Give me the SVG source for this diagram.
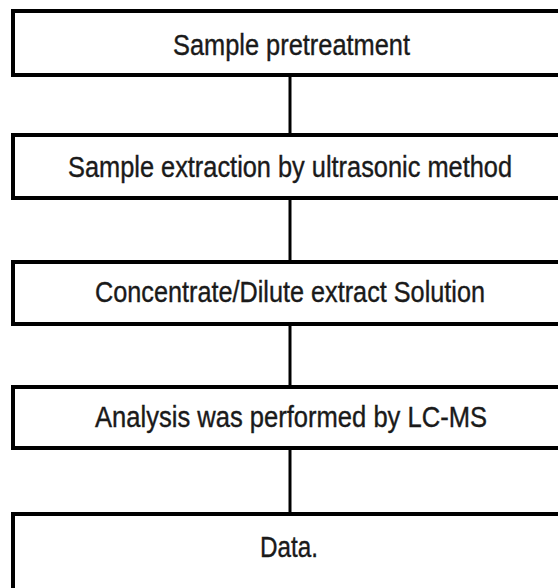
<svg xmlns="http://www.w3.org/2000/svg" width="558" height="588" viewBox="0 0 558 588">
<style>
.box{fill:#fff;stroke:#000;stroke-width:4}
.lbl{font-family:"Liberation Sans",Arial,sans-serif;font-size:30px;fill:#1a1a1a;text-anchor:middle;stroke:#1a1a1a;stroke-width:0.4}
.con{stroke:#000;stroke-width:3;fill:none}
</style>
<rect width="558" height="588" fill="#fff"/>
<g id="connectors">
<line class="con" x1="290" y1="75" x2="290" y2="135"/>
<line class="con" x1="290" y1="198" x2="290" y2="262"/>
<line class="con" x1="290" y1="324" x2="290" y2="387"/>
<line class="con" x1="290" y1="448" x2="290" y2="514"/>
</g>
<g id="n1"><rect class="box" x="13" y="11" width="560" height="64"/><text class="lbl" x="291.5" y="55" textLength="237" lengthAdjust="spacingAndGlyphs">Sample pretreatment</text></g>
<g id="n2"><rect class="box" x="13" y="135" width="560" height="63"/><text class="lbl" x="290" y="177" textLength="444" lengthAdjust="spacingAndGlyphs">Sample extraction by ultrasonic method</text></g>
<g id="n3"><rect class="box" x="13" y="262" width="560" height="62"/><text class="lbl" x="290" y="302" textLength="390" lengthAdjust="spacingAndGlyphs">Concentrate/Dilute extract Solution</text></g>
<g id="n4"><rect class="box" x="13" y="387" width="560" height="61"/><text class="lbl" x="291" y="427" textLength="392" lengthAdjust="spacingAndGlyphs">Analysis was performed by LC-MS</text></g>
<g id="n5"><rect class="box" x="13" y="514" width="560" height="80"/><text class="lbl" x="289" y="557" textLength="58" lengthAdjust="spacingAndGlyphs">Data.</text></g>
</svg>
